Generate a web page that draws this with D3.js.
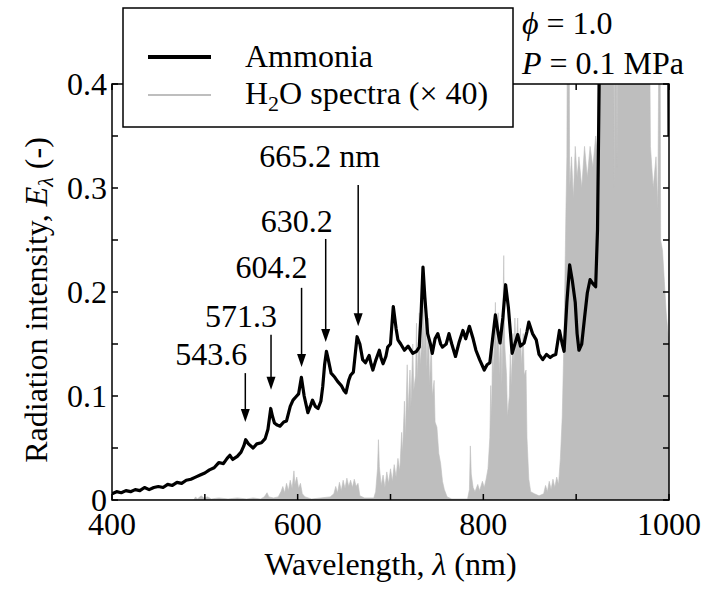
<!DOCTYPE html>
<html>
<head>
<meta charset="utf-8">
<script src="https://cdn.jsdelivr.net/npm/d3@7"></script>
</head>
<body style="margin:0">
<div class="chart"></div>
<script>
// ammonia emission spectrum [wavelength nm, intensity]
const ammonia = [
	[400,0.006],[405,0.008],[410,0.007],[415,0.009],[420,0.008],[425,0.010],[430,0.009],[435,0.012],
	[440,0.010],[445,0.012],[450,0.013],[455,0.012],[460,0.015],[465,0.014],[470,0.017],[475,0.016],
	[480,0.019],[485,0.020],[490,0.022],[495,0.024],[500,0.026],[505,0.029],[510,0.031],[515,0.036],
	[520,0.035],[524,0.040],[527,0.043],[530,0.039],[535,0.042],[539,0.046],[542,0.052],[544,0.058],
	[547,0.054],[552,0.050],[556,0.054],[561,0.055],[565,0.059],[568,0.068],[571,0.088],[573,0.080],
	[575,0.074],[578,0.072],[581,0.071],[585,0.075],[588,0.076],[592,0.090],[595,0.096],[598,0.099],
	[601,0.102],[604,0.118],[607,0.100],[609,0.092],[611,0.084],[614,0.091],[616,0.096],[619,0.090],
	[622,0.088],[625,0.095],[627,0.109],[629,0.130],[631,0.143],[633,0.135],[636,0.122],[640,0.118],
	[643,0.114],[647,0.110],[650,0.105],[652,0.103],[655,0.115],[657,0.120],[660,0.123],[662,0.140],
	[664,0.157],[667,0.150],[670,0.135],[673,0.132],[677,0.139],[679,0.131],[681,0.125],[684,0.134],
	[688,0.144],[690,0.136],[692,0.131],[695,0.138],[697,0.147],[700,0.150],[703,0.186],[706,0.165],
	[708,0.154],[711,0.150],[715,0.144],[719,0.148],[724,0.141],[728,0.143],[731,0.147],[733,0.180],
	[735,0.224],[737,0.195],[740,0.160],[743,0.150],[745,0.141],[748,0.155],[751,0.160],[754,0.150],
	[756,0.147],[760,0.150],[763,0.160],[766,0.150],[770,0.138],[774,0.152],[778,0.163],[781,0.155],
	[785,0.167],[789,0.155],[792,0.144],[796,0.135],[801,0.125],[804,0.130],[807,0.132],[810,0.155],
	[813,0.178],[816,0.160],[818,0.151],[821,0.175],[824,0.207],[827,0.185],[831,0.141],[834,0.150],
	[837,0.159],[840,0.148],[844,0.151],[847,0.162],[849,0.171],[853,0.160],[857,0.154],[860,0.140],
	[864,0.135],[868,0.140],[872,0.137],[875,0.139],[878,0.140],[882,0.163],[885,0.150],[887,0.143],
	[890,0.190],[893,0.226],[896,0.210],[899,0.190],[901,0.160],[903,0.144],[906,0.150],[909,0.175],
	[912,0.199],[915,0.212],[918,0.208],[921,0.205],[923,0.260],[925,0.420],[930,0.700],[999,0.700],
	[1000,0.350]
];

// H2O spectrum, scaled x40
const h2o = [
	[400,0],[488,0],[490,0.003],[492,0.001],[496,0.004],[499,0.002],[503,0.003],[507,0.001],[515,0.002],
	[525,0.001],[535,0.002],[545,0.001],[552,0.002],[560,0.001],[564,0.003],[567,0.007],[569,0.003],
	[574,0.002],[579,0.003],[582,0.008],[584,0.013],[586,0.007],[588,0.016],[590,0.009],[592,0.019],
	[594,0.011],[596,0.028],[597,0.015],[599,0.022],[601,0.011],[603,0.016],[605,0.006],[608,0.003],
	[615,0.001],[625,0.002],[635,0.003],[639,0.006],[641,0.013],[643,0.007],[645,0.017],[647,0.009],
	[649,0.019],[651,0.011],[653,0.021],[655,0.013],[657,0.019],[659,0.012],[661,0.020],[663,0.013],
	[665,0.016],[667,0.004],[672,0.002],[682,0.002],[684,0.008],[686,0.030],[687,0.058],[688,0.032],
	[690,0.014],[692,0.024],[694,0.012],[696,0.027],[698,0.016],[700,0.030],[702,0.018],[704,0.034],
	[706,0.022],[708,0.040],[710,0.028],[712,0.065],[713,0.045],[715,0.095],[716,0.060],[718,0.130],
	[719,0.085],[721,0.125],[722,0.090],[724,0.150],[725,0.105],[727,0.120],[728,0.170],[729,0.115],
	[731,0.180],[732,0.130],[734,0.155],[735,0.205],[736,0.140],[738,0.190],[739,0.125],[741,0.175],
	[742,0.110],[744,0.150],[745,0.100],[747,0.115],[748,0.075],[750,0.070],[752,0.045],[754,0.035],
	[756,0.018],[758,0.010],[761,0.003],[766,0.001],[783,0.001],[785,0.010],[786,0.052],[787,0.025],
	[789,0.012],[791,0.008],[794,0.015],[796,0.009],[799,0.018],[801,0.012],[803,0.020],[805,0.030],
	[807,0.060],[808,0.110],[809,0.080],[810,0.160],[811,0.120],[813,0.190],[814,0.140],[816,0.180],
	[817,0.120],[819,0.170],[820,0.110],[822,0.235],[823,0.150],[825,0.120],[826,0.080],[828,0.100],
	[829,0.140],[830,0.110],[832,0.160],[833,0.130],[834,0.175],[835,0.140],[837,0.175],[838,0.145],
	[840,0.165],[841,0.130],[843,0.160],[844,0.120],[846,0.125],[847,0.060],[849,0.020],[851,0.008],
	[855,0.006],[860,0.004],[865,0.006],[867,0.014],[869,0.008],[871,0.018],[873,0.010],[875,0.020],
	[877,0.012],[879,0.022],[881,0.015],[883,0.040],[885,0.080],[887,0.160],[889,0.280],[890,0.330],
	[891,0.600],[892,0.600],[893,0.300],[895,0.330],[897,0.290],[899,0.340],[901,0.310],[903,0.330],
	[906,0.300],[909,0.340],[912,0.310],[915,0.340],[918,0.320],[921,0.350],[923,0.330],[924,0.600],
	[940,0.600],[941,0.300],[942,0.600],[943,0.600],[944,0.320],[945,0.600],[978,0.600],[980,0.340],
	[983,0.300],[986,0.330],[988,0.280],[990,0.600],[991,0.250],[993,0.240],[995,0.210],[997,0.180],
	[999,0.160],[1000,0.150],[1000,0]
];

const xTicks = [400, 600, 800, 1000];
const xMinor = [500, 700, 900];
const yTicks = [0, 0.1, 0.2, 0.3, 0.4];
const yTickLabels = ["0", "0.1", "0.2", "0.3", "0.4"];
const yMinor = [0.05, 0.15, 0.25, 0.35];

// peak annotations: label, wavelength, label baseline, arrow top, arrow tip
const peakLabels = ["543.6", "571.3", "604.2", "630.2", "665.2 nm"];
const peakWl = [543.6, 571.3, 604.2, 630.2, 665.2];
const peakTextY = [0.130, 0.166, 0.2135, 0.258, 0.320];
const peakArrowTop = [0.122, 0.159, 0.204, 0.251, 0.303];
const peakArrowTip = [0.075, 0.106, 0.128, 0.152, 0.167];
const peakTextShift = [2, 6, 6, 7, 22];

const width = 704, height = 592;
const fontSize = 32;
const serif = "Liberation Serif";

const svg = d3.select(".chart")
	.append("svg")
	.attr("width", width)
	.attr("height", height)
	.attr("font-family", serif);

const x = d3.scaleLinear().domain([400, 1000]).range([112, 669]);
const y = d3.scaleLinear().domain([0, 0.4]).range([500, 84]);

const addText = (parent, px, py) => parent.append("text")
	.attr("x", px)
	.attr("y", py)
	.attr("font-family", serif)
	.attr("font-size", fontSize)
	.style("font", `${fontSize}px "${serif}", serif`);

svg.append("defs")
	.append("clipPath")
	.attr("id", "plot")
	.append("rect")
	.attr("x", x(400)).attr("y", y(0.4))
	.attr("width", x(1000) - x(400))
	.attr("height", y(0) - y(0.4));

// H2O spectrum
const area = d3.area()
	.x((d) => x(d[0]))
	.y0(y(0))
	.y1((d) => y(d[1]));

svg.append("path")
	.datum(h2o)
	.attr("clip-path", "url(#plot)")
	.attr("d", area)
	.attr("fill", "#bebebe")
	.attr("stroke", "#bebebe")
	.attr("stroke-width", 0.6);

// ammonia
const line = d3.line()
	.x((d) => x(d[0]))
	.y((d) => y(d[1]));

svg.append("path")
	.datum(ammonia)
	.attr("clip-path", "url(#plot)")
	.attr("d", line)
	.attr("fill", "none")
	.attr("stroke", "#000")
	.attr("stroke-width", 3.2)
	.attr("stroke-linejoin", "round");

// frame and inward ticks
const frame = svg.append("g")
	.attr("stroke", "#000")
	.attr("stroke-width", 1.5)
	.attr("fill", "none");

frame.append("rect")
	.attr("x", x(400)).attr("y", y(0.4))
	.attr("width", x(1000) - x(400))
	.attr("height", y(0) - y(0.4));

const tickLen = 6;
xTicks.concat(xMinor).forEach((t) => {
	frame.append("line").attr("x1", x(t)).attr("x2", x(t)).attr("y1", y(0)).attr("y2", y(0) - tickLen);
	frame.append("line").attr("x1", x(t)).attr("x2", x(t)).attr("y1", y(0.4)).attr("y2", y(0.4) + tickLen);
});
yTicks.concat(yMinor).forEach((t) => {
	frame.append("line").attr("x1", x(400)).attr("x2", x(400) + tickLen).attr("y1", y(t)).attr("y2", y(t));
	frame.append("line").attr("x1", x(1000)).attr("x2", x(1000) - tickLen).attr("y1", y(t)).attr("y2", y(t));
});

// tick labels
xTicks.forEach((t) => {
	addText(svg, x(t), 535).attr("text-anchor", "middle").text(t);
});
yTicks.forEach((t, i) => {
	addText(svg, 107, y(t) + 11).attr("text-anchor", "end").text(yTickLabels[i]);
});

// axis titles
const xTitle = addText(svg, (x(400) + x(1000)) / 2, 575).attr("text-anchor", "middle");
xTitle.append("tspan").text("Wavelength, ");
xTitle.append("tspan").attr("font-style", "italic").text("λ");
xTitle.append("tspan").text(" (nm)");

const yTitle = addText(svg, 0, 0)
	.attr("transform", `translate(47,${(y(0) + y(0.4)) / 2 + 8}) rotate(-90)`)
	.attr("text-anchor", "middle");
yTitle.append("tspan").text("Radiation intensity, ");
yTitle.append("tspan").attr("font-style", "italic").text("E");
yTitle.append("tspan").attr("font-style", "italic").attr("font-size", 22).attr("dy", 6).text("λ");
yTitle.append("tspan").attr("dy", -6).text(" (-)");

// peak arrows
const peaks = svg.append("g");
peakWl.forEach((wl, i) => {
	const px = x(wl);
	const tip = y(peakArrowTip[i]);
	peaks.append("line")
		.attr("x1", px).attr("x2", px)
		.attr("y1", y(peakArrowTop[i])).attr("y2", tip - 10)
		.attr("stroke", "#000").attr("stroke-width", 1.5);
	peaks.append("path")
		.attr("d", `M${px},${tip} L${px - 4.5},${tip - 13} L${px + 4.5},${tip - 13} Z`)
		.attr("fill", "#000");
	addText(peaks, px + peakTextShift[i], y(peakTextY[i]))
		.attr("text-anchor", "end")
		.text(peakLabels[i]);
});

// legend
const legend = svg.append("g");
legend.append("rect")
	.attr("x", 123).attr("y", 8)
	.attr("width", 390).attr("height", 119)
	.attr("fill", "#fff")
	.attr("stroke", "#000")
	.attr("stroke-width", 1.5);
legend.append("line")
	.attr("x1", 148).attr("x2", 211).attr("y1", 57).attr("y2", 57)
	.attr("stroke", "#000").attr("stroke-width", 4);
legend.append("line")
	.attr("x1", 148).attr("x2", 211).attr("y1", 95).attr("y2", 95)
	.attr("stroke", "#bebebe").attr("stroke-width", 2);
addText(legend, 245, 67).text("Ammonia");
const h2oLabel = addText(legend, 245, 104);
h2oLabel.append("tspan").text("H");
h2oLabel.append("tspan").attr("font-size", 22).attr("dy", 7).text("2");
h2oLabel.append("tspan").attr("dy", -7).text("O spectra (× 40)");

// conditions
const cond1 = addText(svg, 522, 34);
cond1.append("tspan").attr("font-style", "italic").text("ϕ");
cond1.append("tspan").text(" = 1.0");
const cond2 = addText(svg, 522, 74);
cond2.append("tspan").attr("font-style", "italic").text("P");
cond2.append("tspan").text(" = 0.1 MPa");
</script>
</body>
</html>
